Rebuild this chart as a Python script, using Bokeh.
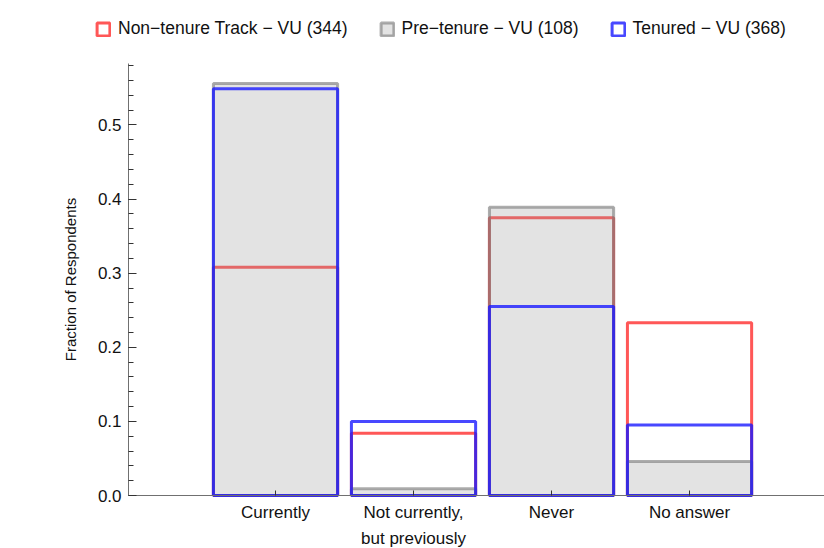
from bokeh.plotting import figure
from bokeh.models import (ColumnDataSource, Legend, LegendItem, FixedTicker,
                          SingleIntervalTicker, PrintfTickFormatter, Range1d)
from bokeh.embed import file_html
from bokeh.resources import INLINE

categories = ["Currently", "Not currently,\nbut previously", "Never", "No answer"]
series_names = ["Non\u2212tenure Track \u2212 VU (344)",
                "Pre\u2212tenure \u2212 VU (108)",
                "Tenured \u2212 VU (368)"]
non_tenure = [0.308, 0.084, 0.375, 0.233]
pre_tenure = [0.556, 0.009, 0.389, 0.046]
tenured = [0.549, 0.100, 0.255, 0.095]

x = [i + 1 for i in range(len(categories))]
FONT = "Liberation Sans"

# frame covers the whole canvas; axes sit at fixed positions inside it
X0, X1 = -0.9928, 4.978
Y0, Y1 = -0.0715, 0.668
AX = -0.0652          # x where the y axis sits
Y_AXIS_TOP = 0.583

p = figure(width=824, height=548, output_backend="svg", toolbar_location=None,
           x_range=Range1d(X0, X1), y_range=Range1d(Y0, Y1),
           min_border_left=0, min_border_right=0, min_border_top=0,
           min_border_bottom=0)
p.outline_line_color = None
p.grid.visible = False
p.background_fill_color = "white"

src_g = ColumnDataSource(dict(x=x, top=pre_tenure))
src_r = ColumnDataSource(dict(x=x, top=non_tenure))
src_b = ColumnDataSource(dict(x=x, top=tenured))

rr = p.vbar(x="x", top="top", bottom=0, width=0.9, source=src_r,
            fill_color=None, line_color="#ff3a3a", line_alpha=0.85, line_width=3)
rg = p.vbar(x="x", top="top", bottom=0, width=0.9, source=src_g,
            fill_color="#999999", fill_alpha=0.27,
            line_color="#777777", line_alpha=0.6, line_width=3)
rb = p.vbar(x="x", top="top", bottom=0, width=0.9, source=src_b,
            fill_color=None, line_color="#1a1aff", line_alpha=0.8, line_width=3)

legend = Legend(items=[LegendItem(label=series_names[0], renderers=[rr]),
                       LegendItem(label=series_names[1], renderers=[rg]),
                       LegendItem(label=series_names[2], renderers=[rb])],
                orientation="horizontal", location=(95, 509),
                border_line_color=None, background_fill_alpha=0,
                padding=0, margin=0, spacing=31, label_standoff=7,
                glyph_width=16, glyph_height=16,
                label_text_font=FONT, label_text_font_size="17.5px",
                label_text_color="#111111")
p.add_layout(legend, "center")

ax = p.xaxis[0]
ax.fixed_location = 0
ax.bounds = (AX, X1)
ax.ticker = FixedTicker(ticks=x)
ax.major_label_overrides = {xi: c for xi, c in zip(x, categories)}
ax.major_tick_in = 5
ax.major_tick_out = 0
ax.minor_tick_line_color = None
ax.axis_line_color = "#707070"
ax.major_tick_line_color = "#333333"
ax.major_label_text_font = FONT
ax.major_label_text_font_size = "17px"
ax.major_label_text_color = "#111111"
ax.major_label_text_line_height = 1.4
ax.major_label_standoff = 7

ay = p.yaxis[0]
ay.fixed_location = AX
ay.bounds = (0, Y_AXIS_TOP)
ay.ticker = SingleIntervalTicker(interval=0.1, num_minor_ticks=5)
ay.formatter = PrintfTickFormatter(format="%.1f")
ay.major_tick_in = 8
ay.major_tick_out = 0
ay.minor_tick_in = 5
ay.minor_tick_out = 0
ay.axis_line_color = "#707070"
ay.major_tick_line_color = "#333333"
ay.minor_tick_line_color = "#333333"
ay.major_label_text_font = FONT
ay.major_label_text_font_size = "17px"
ay.major_label_text_color = "#111111"
ay.major_label_standoff = 7
ay.axis_label = "Fraction of Respondents"
ay.axis_label_text_font = FONT
ay.axis_label_text_font_size = "15px"
ay.axis_label_text_font_style = "normal"
ay.axis_label_text_color = "#111111"
ay.axis_label_standoff = 16

open("out.html", "w").write(file_html(p, INLINE))
